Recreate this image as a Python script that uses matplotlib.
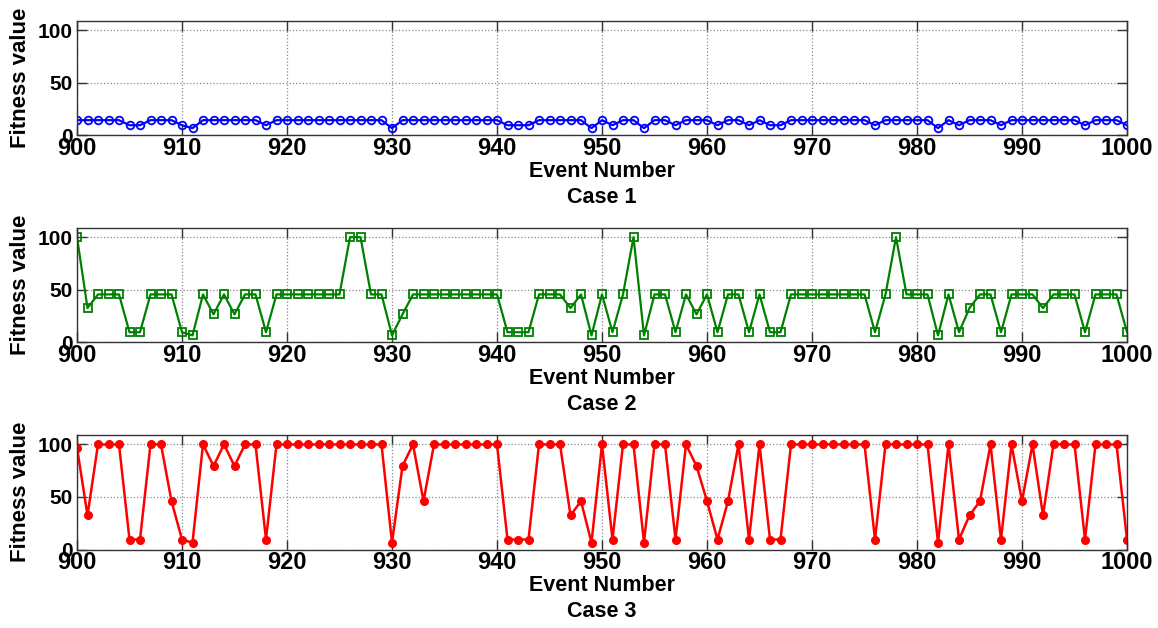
"""
Fitness value per event, three cases stacked (events 900-1000).
"""
import matplotlib.pyplot as plt
import numpy as np

plt.rcParams["font.family"] = ["Liberation Sans", "DejaVu Sans"]
plt.rcParams["font.weight"] = "bold"

EVENTS = np.arange(900, 1001)
CASE_NAMES = ["Case 1", "Case 2", "Case 3"]
X_TICKS = [900, 910, 920, 930, 940, 950, 960, 970, 980, 990, 1000]
Y_TICKS = [0, 50, 100]

case1 = [
    14.3, 14.3, 14.3, 14.3, 14.3, 9.5, 9.5, 14.3, 14.3, 14.3,
    9.5, 6.7, 14.3, 14.3, 14.3, 14.3, 14.3, 14.3, 9.5, 14.3,
    14.3, 14.3, 14.3, 14.3, 14.3, 14.3, 14.3, 14.3, 14.3, 14.3,
    6.7, 14.3, 14.3, 14.3, 14.3, 14.3, 14.3, 14.3, 14.3, 14.3,
    14.3, 9.5, 9.5, 9.5, 14.3, 14.3, 14.3, 14.3, 14.3, 6.7,
    14.3, 9.5, 14.3, 14.3, 6.7, 14.3, 14.3, 9.5, 14.3, 14.3,
    14.3, 9.5, 14.3, 14.3, 9.5, 14.3, 9.5, 9.5, 14.3, 14.3,
    14.3, 14.3, 14.3, 14.3, 14.3, 14.3, 9.5, 14.3, 14.3, 14.3,
    14.3, 14.3, 6.7, 14.3, 9.5, 14.3, 14.3, 14.3, 9.5, 14.3,
    14.3, 14.3, 14.3, 14.3, 14.3, 14.3, 9.5, 14.3, 14.3, 14.3,
    9.5,
]
case2 = [
    100, 32.5, 45.5, 45.5, 45.5, 9.5, 9.5, 45.5, 45.5, 45.5,
    9.5, 6.5, 45.5, 26.5, 45.5, 26.5, 45.5, 45.5, 9.5, 45.5,
    45.5, 45.5, 45.5, 45.5, 45.5, 45.5, 100, 100, 45.5, 45.5,
    6.5, 26.5, 45.5, 45.5, 45.5, 45.5, 45.5, 45.5, 45.5, 45.5,
    45.5, 9.5, 9.5, 9.5, 45.5, 45.5, 45.5, 32.5, 45.5, 6.5,
    45.5, 9.5, 45.5, 100, 6.5, 45.5, 45.5, 9.5, 45.5, 26.5,
    45.5, 9.5, 45.5, 45.5, 9.5, 45.5, 9.5, 9.5, 45.5, 45.5,
    45.5, 45.5, 45.5, 45.5, 45.5, 45.5, 9.5, 45.5, 100, 45.5,
    45.5, 45.5, 6.5, 45.5, 9.5, 32.5, 45.5, 45.5, 9.5, 45.5,
    45.5, 45.5, 32.5, 45.5, 45.5, 45.5, 9.5, 45.5, 45.5, 45.5,
    9.5,
]
case3 = [
    97, 32.5, 100, 100, 100, 9.5, 9.5, 100, 100, 46,
    9.5, 6.5, 100, 79.5, 100, 79.5, 100, 100, 9.5, 100,
    100, 100, 100, 100, 100, 100, 100, 100, 100, 100,
    6.5, 79.5, 100, 46, 100, 100, 100, 100, 100, 100,
    100, 9.5, 9.5, 9.5, 100, 100, 100, 32.5, 46, 6.5,
    100, 9.5, 100, 100, 6.5, 100, 100, 9.5, 100, 79.5,
    46, 9.5, 46, 100, 9.5, 100, 9.5, 9.5, 100, 100,
    100, 100, 100, 100, 100, 100, 9.5, 100, 100, 100,
    100, 100, 6.5, 100, 9.5, 32.5, 46, 100, 9.5, 100,
    46, 100, 32.5, 100, 100, 100, 9.5, 100, 100, 100,
    9.5,
]

STYLES = [
    dict(color="#0000ff", marker="o", mfc="none", ms=5.5, mew=1.3, lw=1.6),
    dict(color="#008000", marker="s", mfc="none", ms=6, mew=1.3, lw=1.6),
    dict(color="#ff0000", marker="o", mfc="#ff0000", ms=5.5, mew=1, lw=1.8),
]


if __name__ == "__main__":
    fig = plt.figure(figsize=(11.58, 6.28), dpi=100)
    left, width = 77 / 1158, (1127 - 77) / 1158
    tops_px = [20.7, 227.7, 435]
    height = 114.5 / 628

    for i, (values, name, style) in enumerate(zip([case1, case2, case3], CASE_NAMES, STYLES)):
        bottom = 1 - (tops_px[i] / 628) - height
        ax = fig.add_axes([left, bottom, width, height])
        ax.plot(EVENTS, values, **style)

        ax.set_xlim(900, 1000)
        ax.set_ylim(0, 109)
        ax.set_xticks(X_TICKS)
        ax.set_yticks(Y_TICKS)
        ax.tick_params(axis="x", labelsize=17, pad=1)
        ax.tick_params(axis="y", labelsize=15, pad=3)
        ax.tick_params(direction="in", length=7, width=1, color="#333333",
                       top=True, right=True)
        for spine in ax.spines.values():
            spine.set_color("#333333")
            spine.set_linewidth(1)
        ax.grid(True, linestyle=":", color="#888888", linewidth=0.9)

        ax.set_ylabel("Fitness value", fontsize=16, fontweight="bold", labelpad=5)
        ax.set_xlabel("Event Number\n" + name, fontsize=15.5, fontweight="bold",
                      labelpad=1, linespacing=1.3)

    fig.savefig("out.png", dpi=100)
